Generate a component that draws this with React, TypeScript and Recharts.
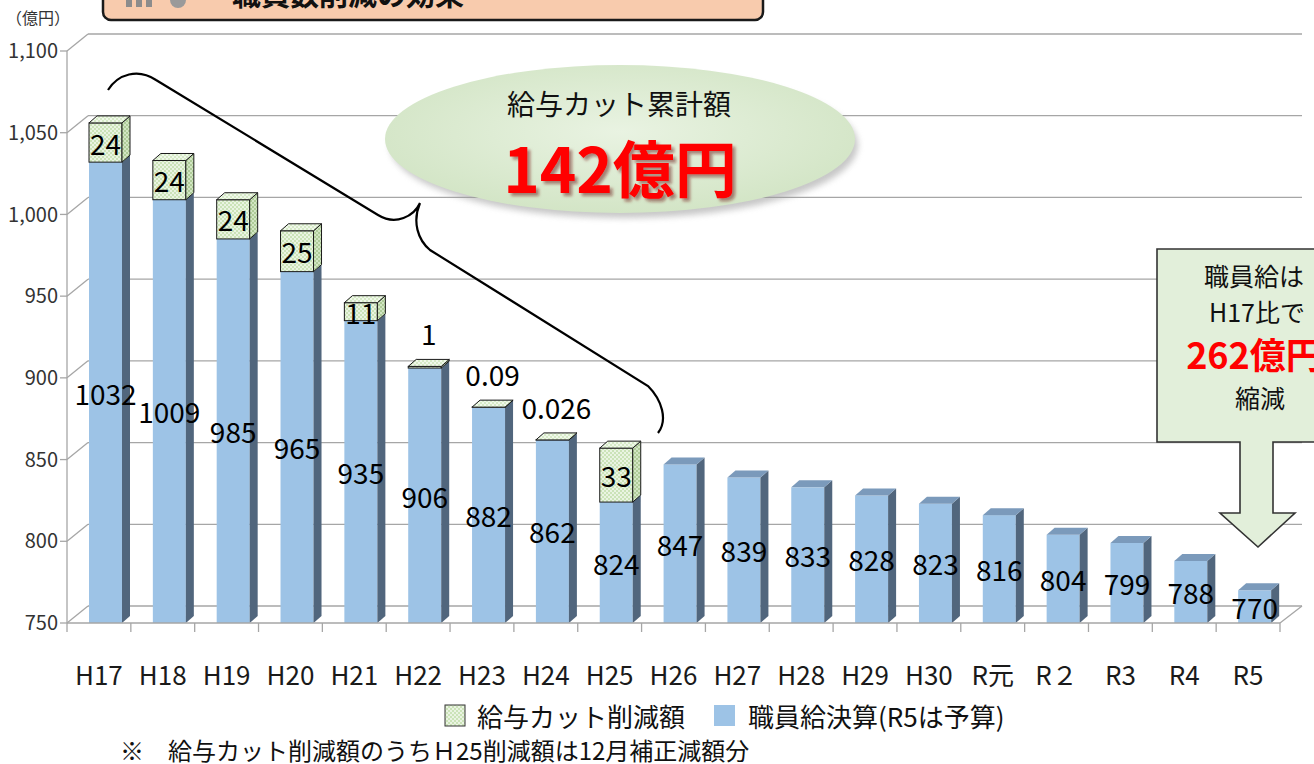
import {
  BarChart,
  Bar,
  XAxis,
  YAxis,
  CartesianGrid,
  LabelList,
} from "recharts";

const categories = [
  "H17", "H18", "H19", "H20", "H21", "H22", "H23", "H24", "H25", "H26",
  "H27", "H28", "H29", "H30", "R元", "R２", "R3", "R4", "R5",
];
const salaryValues = [
  1032, 1009, 985, 965, 935, 906, 882, 862, 824, 847, 839, 833, 828, 823, 816,
  804, 799, 788, 770,
];
const cutValues: (number | null)[] = [
  24, 24, 24, 25, 11, 1, 0.09, 0.026, 33, null, null, null, null, null, null,
  null, null, null, null,
];
const yTicks = [750, 800, 850, 900, 950, 1000, 1050, 1100];

const data = categories.map((name, i) => ({
  name,
  salary: salaryValues[i],
  cut: cutValues[i],
}));

const FONT = "'Noto Sans CJK JP', 'Noto Sans', sans-serif";
const W = 1314;
const H = 764;
const PLOT_LEFT = 67;
const PLOT_RIGHT = 1280;
const PLOT_TOP = 51;
const PLOT_BOTTOM = 623;
const STEP = (PLOT_RIGHT - PLOT_LEFT) / categories.length;
// 3d look
const DX = 8;
const DY = 7;
const SHIFT = 7;
const BACK_X = 21;
const BACK_Y = 17;

function Prism(props: any) {
  const { x, y, width, height, kind, index } = props;
  if (kind === "cut" && !cutValues[index]) return null;
  const left = x + SHIFT;
  const right = left + width;
  const top = y;
  const bottom = Math.min(y + height, PLOT_BOTTOM);
  const green = kind === "cut";
  const front = green ? "url(#greenDots)" : "#9dc3e6";
  const side = green ? "url(#greenDotsDark)" : "#51667d";
  const cap = green ? "url(#greenDotsLight)" : "#7b9abb";
  const stroke = green ? "#1a1a1a" : "none";
  return (
    <g>
      <rect x={left} y={top} width={width} height={Math.max(bottom - top, 0)} fill={front} stroke={stroke} strokeWidth={1} />
      <polygon
        points={`${right},${top} ${right + DX},${top - DY} ${right + DX},${bottom - DY} ${right},${bottom}`}
        fill={side}
        stroke={stroke}
        strokeWidth={1}
      />
      <polygon
        points={`${left},${top} ${left + DX},${top - DY} ${right + DX},${top - DY} ${right},${top}`}
        fill={cap}
        stroke={stroke}
        strokeWidth={1}
      />
    </g>
  );
}

function SalaryLabel(props: any) {
  const { x, y, width, height, index } = props;
  const bottom = Math.min(y + height, PLOT_BOTTOM);
  return (
    <text
      x={x + SHIFT + width / 2}
      y={(y + bottom) / 2}
      textAnchor="middle"
      dominantBaseline="central"
      fontFamily={FONT}
      fontSize={28}
      fill="#000"
    >
      {salaryValues[index]}
    </text>
  );
}

function CutLabel(props: any) {
  const { x, y, width, height, index } = props;
  const v = cutValues[index];
  if (!v) return null;
  const small = v < 5;
  return (
    <text
      x={x + SHIFT + width / 2 + (small ? 4 : 0)}
      y={small ? y - 33 : y + height / 2}
      textAnchor="middle"
      dominantBaseline="central"
      fontFamily={FONT}
      fontSize={28}
      fill="#000"
    >
      {String(v)}
    </text>
  );
}

function GridLine(props: any) {
  const { x1, y1, x2, index } = props;
  return (
    <g key={`g-${index}-${y1}`}>
      <line x1={x1} y1={y1} x2={x1 + BACK_X} y2={y1 - BACK_Y} stroke="#a6a6a6" strokeWidth={1.3} />
      <line x1={x1 + BACK_X} y1={y1 - BACK_Y} x2={x2 + BACK_X + 1} y2={y1 - BACK_Y} stroke="#a6a6a6" strokeWidth={1.3} />
    </g>
  );
}

function CategoryTick(props: any) {
  const { x, payload, index } = props;
  const last = index === categories.length - 1;
  return (
    <g>
      <line x1={x - STEP / 2} y1={PLOT_BOTTOM} x2={x - STEP / 2} y2={PLOT_BOTTOM + 9} stroke="#a6a6a6" strokeWidth={1.3} />
      {last && (
        <line x1={x + STEP / 2} y1={PLOT_BOTTOM} x2={x + STEP / 2} y2={PLOT_BOTTOM + 9} stroke="#a6a6a6" strokeWidth={1.3} />
      )}
      <text x={x} y={673} textAnchor="middle" dominantBaseline="central" fontFamily={FONT} fontSize={26} fill="#1a1a1a">
        {payload.value}
      </text>
    </g>
  );
}

function PatternDefs() {
  const tile = (id: string, base: string, dot: string) => (
    <pattern id={id} width={4} height={4} patternUnits="userSpaceOnUse">
      <rect width={4} height={4} fill={base} />
      <rect x={0} y={0} width={2} height={2} fill={dot} />
      <rect x={2} y={2} width={2} height={2} fill={dot} />
    </pattern>
  );
  return (
    <defs>
      {tile("greenDots", "#cbe3b8", "#eaf4e2")}
      {tile("greenDotsDark", "#aecb98", "#d2e6c3")}
      {tile("greenDotsLight", "#d6eac7", "#f0f8ea")}
    </defs>
  );
}

function Overlay() {
  return (
    <svg width={W} height={H} style={{ position: "absolute", left: 0, top: 0, pointerEvents: "none" }}>
      <PatternDefs />
      <defs>
        <radialGradient id="ellFill" cx="50%" cy="45%" r="55%">
          <stop offset="0%" stopColor="#e9f3e2" />
          <stop offset="100%" stopColor="#d3e5c6" />
        </radialGradient>
        <filter id="blur4">
          <feGaussianBlur stdDeviation="3" />
        </filter>
        <filter id="redShadow" x="-10%" y="-20%" width="130%" height="150%">
          <feDropShadow dx="3" dy="3" stdDeviation="1.5" floodColor="#6a0f0f" floodOpacity="0.5" />
        </filter>
      </defs>

      {/* header box, cut off at the top */}
      <rect x={103} y={-24} width={660} height={44} rx={8} fill="#f8cbad" stroke="#1a1a1a" strokeWidth={2.5} />
      <rect x={126} y={0} width={6} height={7} fill="#8c8c8c" />
      <rect x={136} y={0} width={6} height={7} fill="#8c8c8c" />
      <rect x={146} y={0} width={6} height={7} fill="#8c8c8c" />
      <circle cx={178} cy={0} r={8} fill="#9a9a9a" />
      <text x={232} y={-7} dominantBaseline="central" fontFamily={FONT} fontSize={29} fontWeight={700} fill="#111">
        職員数削減の効果
      </text>

      {/* unit */}
      <text x={6} y={17} dominantBaseline="central" fontFamily={FONT} fontSize={16} fill="#333">
        （億円）
      </text>

      {/* right floor edge */}
      <line x1={PLOT_RIGHT} y1={PLOT_BOTTOM} x2={PLOT_RIGHT + BACK_X + 1} y2={PLOT_BOTTOM - BACK_Y} stroke="#a6a6a6" strokeWidth={1.3} />

      {/* brace */}
      <path
        d="M108,90 C118,74 138,68 156,80 L378,215 C396,226 414,216 420,203 C412,222 418,240 430,250 L648,386 C662,400 668,420 658,433"
        fill="none"
        stroke="#000"
        strokeWidth={2.2}
      />

      {/* cumulative ellipse */}
      <ellipse cx={624} cy={145} rx={234} ry={73} fill="#9a9a9a" opacity={0.55} filter="url(#blur4)" />
      <ellipse cx={620} cy={139} rx={235} ry={74} fill="url(#ellFill)" />
      <text x={619} y={103} textAnchor="middle" dominantBaseline="central" fontFamily={FONT} fontSize={28} fill="#111">
        給与カット累計額
      </text>
      <text x={620} y={166} textAnchor="middle" dominantBaseline="central" fontFamily={FONT} fontSize={62} fontWeight={700} fill="#ff0000" filter="url(#redShadow)">
        142億円
      </text>

      {/* right callout with arrow */}
      <path
        d="M1157,249 H1370 V442 H1273 V513 H1295 L1258,547 L1220,513 H1240 V442 H1157 Z"
        fill="#e2efda"
        stroke="#333"
        strokeWidth={1.6}
      />
      <text x={1254} y={275} textAnchor="middle" dominantBaseline="central" fontFamily={FONT} fontSize={25} fill="#111">
        職員給は
      </text>
      <text x={1257} y={311} textAnchor="middle" dominantBaseline="central" fontFamily={FONT} fontSize={25} fill="#111">
        H17比で
      </text>
      <text x={1254} y={353} textAnchor="middle" dominantBaseline="central" fontFamily={FONT} fontSize={36} fontWeight={700} fill="#ff0000">
        262億円
      </text>
      <text x={1260} y={397} textAnchor="middle" dominantBaseline="central" fontFamily={FONT} fontSize={25} fill="#111">
        縮減
      </text>

      {/* legend */}
      <rect x={445} y={705} width={20} height={21} fill="url(#greenDots)" stroke="#333" strokeWidth={1} />
      <text x={477} y={715} dominantBaseline="central" fontFamily={FONT} fontSize={26} fill="#111">
        給与カット削減額
      </text>
      <rect x={714} y={705} width={21} height={21} fill="#9dc3e6" />
      <text x={748} y={715} dominantBaseline="central" fontFamily={FONT} fontSize={26} fill="#111">
        職員給決算(R5は予算)
      </text>

      {/* footnote */}
      <text x={120} y={749} dominantBaseline="central" fontFamily={FONT} fontSize={24} fill="#111">
        ※　給与カット削減額のうちＨ25削減額は12月補正減額分
      </text>
    </svg>
  );
}

export default function App() {
  return (
    <div style={{ position: "absolute", left: 0, top: 0, width: W, height: H, background: "#fff", overflow: "hidden" }}>
      <BarChart
        width={W}
        height={H}
        data={data}
        margin={{ top: PLOT_TOP, right: W - PLOT_RIGHT, bottom: H - PLOT_BOTTOM - 60, left: PLOT_LEFT - 60 }}
        barSize={33}
      >
        <PatternDefs />
        <CartesianGrid vertical={false} horizontal={(p: any) => <GridLine {...p} />} />
        <XAxis
          dataKey="name"
          height={60}
          tick={<CategoryTick />}
          tickLine={false}
          interval={0}
          axisLine={{ stroke: "#a6a6a6", strokeWidth: 1.3 }}
        />
        <YAxis
          width={60}
          domain={[750, 1100]}
          ticks={yTicks}
          allowDataOverflow
          tickSize={7}
          tickFormatter={(v: number) => v.toLocaleString("en-US")}
          tick={{ fontFamily: FONT, fontSize: 20, fill: "#333" }}
          axisLine={{ stroke: "#a6a6a6", strokeWidth: 1.3 }}
          tickLine={{ stroke: "#a6a6a6", strokeWidth: 1.3 }}
        />
        <Bar
          dataKey="salary"
          stackId="a"
          fill="#9dc3e6"
          isAnimationActive={false}
          shape={(p: any) => <Prism {...p} kind="salary" />}
        >
          <LabelList dataKey="salary" content={<SalaryLabel />} />
        </Bar>
        <Bar
          dataKey="cut"
          stackId="a"
          fill="#cbe3b8"
          isAnimationActive={false}
          shape={(p: any) => <Prism {...p} kind="cut" />}
        >
          <LabelList dataKey="cut" content={<CutLabel />} />
        </Bar>
      </BarChart>
      <Overlay />
    </div>
  );
}
